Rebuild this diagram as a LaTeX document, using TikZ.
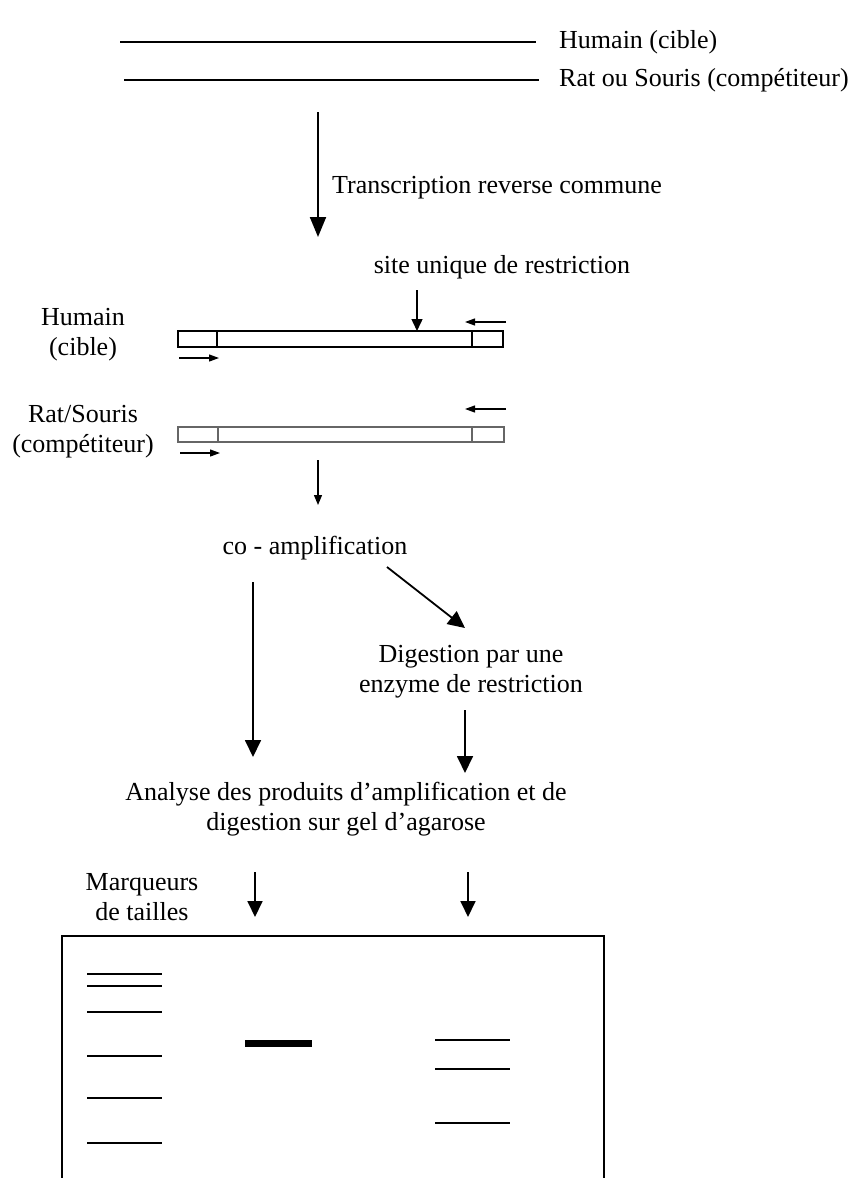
\documentclass[tikz,border=0pt]{standalone}
\usepackage{fontspec}
\setmainfont{Liberation Serif}
\usetikzlibrary{arrows.meta}
\tikzset{
  lbl/.style={font=\fontsize{26pt}{30pt}\selectfont, inner sep=0pt, align=center},
  bigarrow/.style={line width=2pt, -{Triangle[width=16pt,length=20pt]}},
  midarrow/.style={line width=1.8pt, -{Triangle[width=16pt,length=17pt]}},
  gelarrow/.style={line width=1.8pt, -{Triangle[width=15pt,length=16pt]}},
  sitearrow/.style={line width=1.5pt, -{Triangle[width=11pt,length=12pt]}},
  smallarrow/.style={line width=1.3pt, -{Triangle[width=8pt,length=10pt]}},
  primer/.style={line width=1.2pt, -{Triangle[width=7pt,length=10pt]}},
  strand/.style={line width=2pt},
  cdna/.style={line width=1.3pt},
  cdnalight/.style={line width=1.2pt, draw=black!60},
  band/.style={line width=2pt},
  gel/.style={line width=2pt},
}
\begin{document}
\begin{tikzpicture}[x=1pt,y=-1pt]
\useasboundingbox (0,0) rectangle (851,1178);
% top strands
\coordinate (h1) at (120,42); \coordinate (h2) at (536,42);
\coordinate (r1) at (124,80); \coordinate (r2) at (539,80);
\draw[strand] (h1) -- (h2);
\draw[strand] (r1) -- (r2);
\node[lbl, anchor=west] (thum) at (559,42) {Humain (cible)};
\node[lbl, anchor=west] (trat) at (559,80) {Rat ou Souris (compétiteur)};
% RT arrow
\coordinate (a1s) at (318,112); \coordinate (a1e) at (318,237);
\draw[bigarrow] (a1s) -- (a1e);
\node[lbl, anchor=west] (trt) at (332,188) {Transcription reverse commune};
\node[lbl] (tsite) at (502,267) {site unique de restriction};
% human construct
\draw[cdna] (178,331) rectangle (503,347);
\draw[cdna] (217,331) -- (217,347);
\draw[cdna] (472,331) -- (472,347);
\coordinate (s1) at (417,290); \coordinate (s2) at (417,331);
\draw[sitearrow] (s1) -- (s2);
\coordinate (hp1) at (506,322); \coordinate (hp2) at (465,322);
\draw[primer] (hp1) -- (hp2);
\coordinate (hf1) at (179,358); \coordinate (hf2) at (219,358);
\draw[primer] (hf1) -- (hf2);
\node[lbl] (thc) at (83,335) {Humain\\(cible)};
% rat construct
\draw[cdnalight] (178,427) rectangle (504,442);
\draw[cdnalight] (218,427) -- (218,442);
\draw[cdnalight] (472,427) -- (472,442);
\coordinate (rp1) at (506,409); \coordinate (rp2) at (465,409);
\draw[primer] (rp1) -- (rp2);
\coordinate (rf1) at (180,453); \coordinate (rf2) at (220,453);
\draw[primer] (rf1) -- (rf2);
\node[lbl] (trc) at (83,432) {Rat/Souris\\(compétiteur)};
% to co-amplification
\coordinate (a2s) at (318,460); \coordinate (a2e) at (318,505);
\draw[smallarrow] (a2s) -- (a2e);
\node[lbl] (tco) at (315,548) {co - amplification};
\coordinate (a3s) at (253,582); \coordinate (a3e) at (253,757);
\draw[midarrow] (a3s) -- (a3e);
\coordinate (a4s) at (387,567); \coordinate (a4e) at (465,628);
\draw[midarrow] (a4s) -- (a4e);
\node[lbl] (tdig) at (471,672) {Digestion par une\\enzyme de restriction};
\coordinate (a5s) at (465,710); \coordinate (a5e) at (465,773);
\draw[midarrow] (a5s) -- (a5e);
\node[lbl] (tana) at (346,809) {Analyse des produits d’amplification et de\\digestion sur gel d’agarose};
\node[lbl] (tmark) at (142,897) {Marqueurs\\de tailles};
\coordinate (a6s) at (255,872); \coordinate (a6e) at (255,917);
\draw[gelarrow] (a6s) -- (a6e);
\coordinate (a7s) at (468,872); \coordinate (a7e) at (468,917);
\draw[gelarrow] (a7s) -- (a7e);
% gel
\draw[gel] (62,1180) -- (62,936) -- (604,936) -- (604,1180);
\foreach \y in {974,986,1012,1056,1098,1143} \draw[band] (87,\y) -- (162,\y);
\draw[line width=7pt] (245,1043) -- (312,1043);
\foreach \y in {1040,1069,1123} \draw[band] (435,\y) -- (510,\y);
\end{tikzpicture}
\end{document}
